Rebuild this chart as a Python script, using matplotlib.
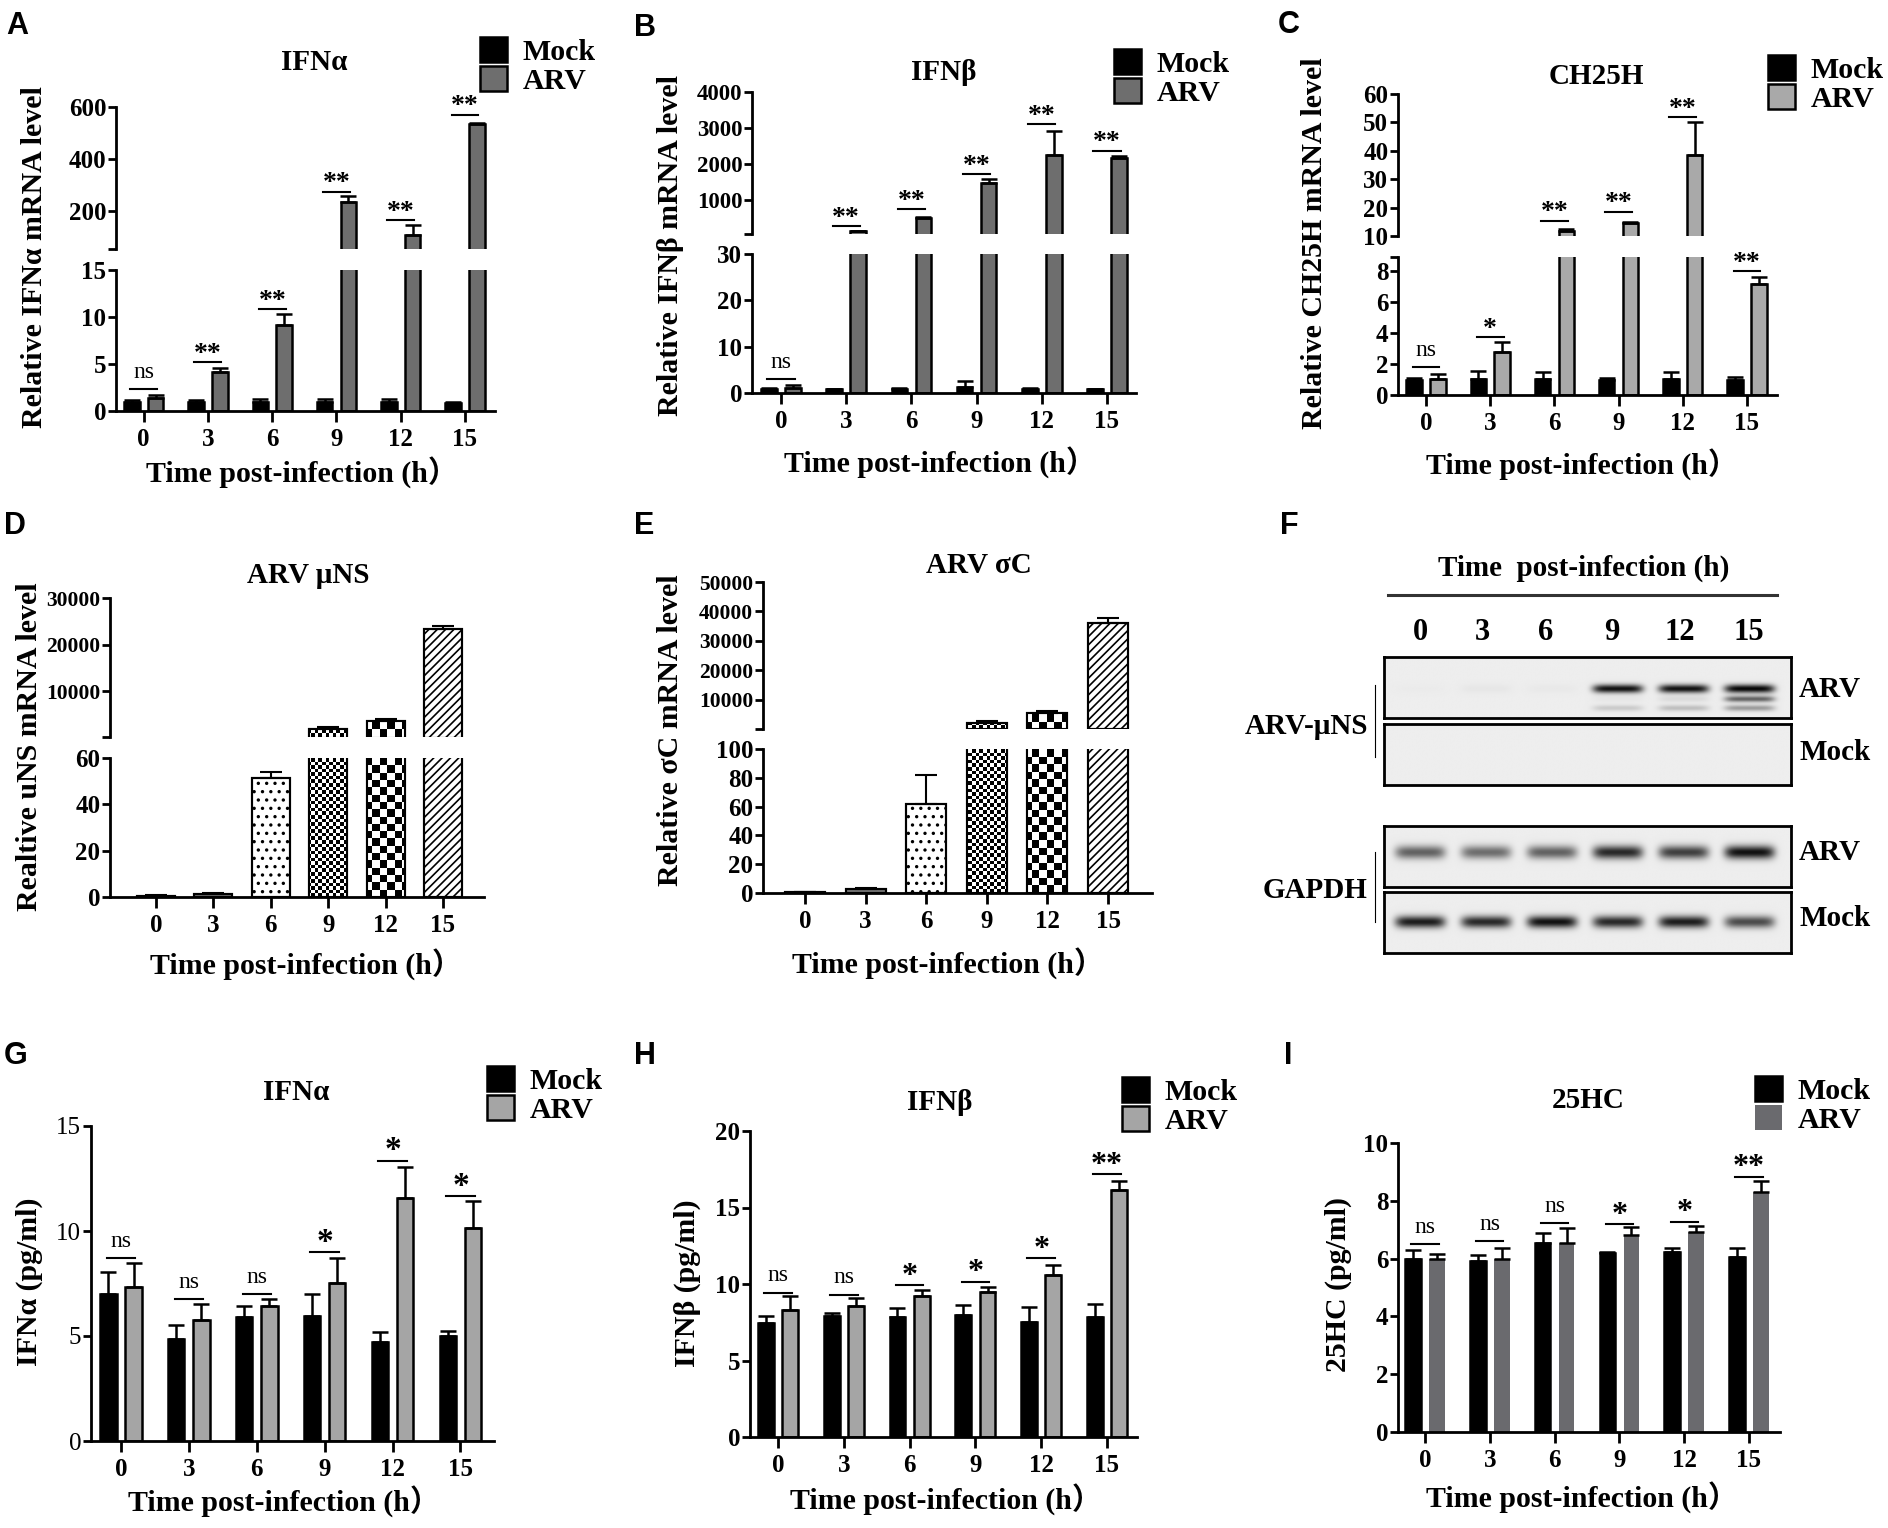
import numpy as np
import matplotlib.pyplot as plt
from matplotlib.lines import Line2D

plt.rcParams['font.family'] = ['Liberation Serif', 'Noto Sans CJK SC', 'DejaVu Sans']
plt.rcParams['font.weight'] = 'bold'
plt.rcParams['hatch.linewidth'] = 1.2

W, H = 1888, 1528

times = ['0', '3', '6', '9', '12', '15']
groups = ['Mock', 'ARV']
xlab = 'Time post-infection (h\uff09'

# A: IFNa mRNA
ifna_rna_mock = [1.0, 1.0, 1.0, 1.0, 1.0, 0.9]
ifna_rna_mock_err = [0.2, 0.2, 0.3, 0.3, 0.25, 0.1]
ifna_rna_arv = [1.4, 4.2, 9.2, 235, 106, 535]
ifna_rna_arv_err = [0.35, 0.35, 1.1, 23, 41, 5]
ifna_rna_sig = ['ns', '**', '**', '**', '**', '**']
ifna_rna_sig_y = [2.36, 5.2, 10.8, 274, 164, 570]

# B: IFNb mRNA
ifnb_rna_mock = [0.9, 0.8, 0.9, 1.3, 0.9, 0.8]
ifnb_rna_mock_err = [0.15, 0.1, 0.15, 1.2, 0.2, 0.1]
ifnb_rna_arv = [1.1, 130, 500, 1460, 2250, 2170]
ifnb_rna_arv_err = [0.7, 15, 35, 120, 660, 50]
ifnb_rna_sig = ['ns', '**', '**', '**', '**', '**']
ifnb_rna_sig_y = [3.1, 271, 738, 1720, 3100, 2370]

# C: CH25H mRNA
ch25h_mock = [0.97, 1.0, 1.0, 0.97, 1.0, 0.95]
ch25h_mock_err = [0.1, 0.55, 0.5, 0.13, 0.5, 0.19]
ch25h_arv = [1.03, 2.8, 11.9, 14.7, 38.6, 7.16]
ch25h_arv_err = [0.32, 0.6, 0.7, 0.3, 11.6, 0.47]
ch25h_sig = ['ns', '*', '**', '**', '**', '**']
ch25h_sig_y = [1.83, 3.72, 15.4, 18.6, 51.9, 8.0]

# D: ARV uNS mRNA
uns_rna = [0.6, 1.4, 51.4, 1890, 3520, 23350]
uns_rna_err = [0.4, 0.5, 2.4, 350, 570, 710]

# E: ARV sigmaC mRNA
sigc_rna = [0.7, 2.8, 61.9, 2110, 5500, 36140]
sigc_rna_err = [0.2, 0.7, 20, 560, 790, 1800]

# F: western blot band strength (0 = none, 1 = saturated)
uns_arv_band = [0.01, 0.03, 0.02, 0.95, 0.95, 1.0]
uns_arv_band2 = [0.0, 0.0, 0.0, 0.03, 0.08, 0.6]
uns_arv_band3 = [0.0, 0.0, 0.0, 0.15, 0.2, 0.35]
uns_mock_band = [0.0, 0.0, 0.0, 0.0, 0.0, 0.0]
gapdh_arv_band = [0.6, 0.55, 0.6, 0.85, 0.75, 0.95]
gapdh_mock_band = [0.9, 0.85, 0.95, 0.85, 0.9, 0.7]

# G: IFNa protein
ifna_mock = [7.02, 4.84, 5.89, 5.94, 4.71, 5.0]
ifna_mock_err = [1.01, 0.70, 0.52, 1.04, 0.46, 0.24]
ifna_arv = [7.33, 5.78, 6.44, 7.54, 11.56, 10.14]
ifna_arv_err = [1.15, 0.76, 0.32, 1.17, 1.47, 1.29]
ifna_sig = ['ns', 'ns', 'ns', '*', '*', '*']
ifna_sig_y = [8.71, 6.76, 6.98, 9.0, 13.35, 11.67]

# H: IFNb protein
ifnb_mock = [7.48, 7.92, 7.85, 8.0, 7.52, 7.85]
ifnb_mock_err = [0.44, 0.18, 0.59, 0.66, 0.98, 0.87]
ifnb_arv = [8.27, 8.57, 9.2, 9.47, 10.58, 16.12]
ifnb_arv_err = [0.93, 0.53, 0.4, 0.33, 0.65, 0.61]
ifnb_sig = ['ns', 'ns', '*', '*', '*', '**']
ifnb_sig_y = [9.44, 9.31, 9.92, 10.14, 11.67, 17.17]

# I: 25HC
hc_mock = [5.98, 5.9, 6.55, 6.18, 6.24, 6.07]
hc_mock_err = [0.32, 0.22, 0.32, 0.06, 0.14, 0.31]
hc_arv = [5.98, 5.98, 6.55, 6.8, 6.91, 8.29]
hc_arv_err = [0.19, 0.4, 0.5, 0.3, 0.22, 0.38]
hc_sig = ['ns', 'ns', 'ns', '*', '*', '**']
hc_sig_y = [6.5, 6.6, 7.23, 7.2, 7.28, 8.84]

fig = plt.figure(figsize=(W / 100, H / 100), dpi=100)


def add_ax(l, t, r, b):
    return fig.add_axes([l / W, 1 - b / H, (r - l) / W, (b - t) / H])


def ftext(x, y, s, **kw):
    kw.setdefault('ha', 'center')
    kw.setdefault('va', 'center')
    fig.text(x / W, 1 - y / H, s, **kw)


def x_limits(l, r, t0, t5):
    step = (t5 - t0) / 5
    return (-(t0 - l) / step, 5 + (r - t5) / step)


def style_axis(ax, xlim, ylim, ticks, labels, bottom, tick_weight='bold', fs=18):
    ax.set_xlim(xlim)
    ax.set_ylim(ylim)
    ax.set_yticks(ticks)
    ax.set_yticklabels(labels, fontsize=fs, fontweight=tick_weight)
    ax.spines['top'].set_visible(False)
    ax.spines['right'].set_visible(False)
    ax.spines['left'].set_linewidth(2)
    ax.tick_params(axis='y', direction='out', length=6, width=2, pad=1)
    ax.patch.set_alpha(0)
    if bottom:
        ax.spines['bottom'].set_linewidth(2)
        ax.set_xticks(range(6))
        ax.set_xticklabels(times, fontsize=18, fontweight='bold')
        ax.tick_params(axis='x', direction='out', length=8, width=2, pad=4)
    else:
        ax.spines['bottom'].set_visible(False)
        ax.tick_params(axis='x', bottom=False, labelbottom=False)


def make_axes(xbox, lower, upper, upper_fs):
    l, r = xbox[0], xbox[1]
    out = [(add_ax(l, lower[0], r, lower[1]),) + tuple(lower[2:]) + (True, 18)]
    if upper is not None:
        out.append((add_ax(l, upper[0], r, upper[1]),) + tuple(upper[2:]) + (False, upper_fs))
    return out


def above(vals, lim):
    # values below the segment floor are not drawn in the upper segment
    v = np.asarray(vals, float)
    return np.where(v > lim[0], v, np.nan)


def add_sig(axes, sig, sig_y, half=0.21, star_fs=20):
    for i in range(6):
        ax = axes[0][0]
        if len(axes) > 1 and sig_y[i] > axes[0][1][1]:
            ax = axes[1][0]
        ax.plot([i - half, i + half], [sig_y[i], sig_y[i]], color='black', lw=1.5,
                clip_on=False, zorder=5)
        ns = sig[i] == 'ns'
        ax.annotate(sig[i], (i, sig_y[i]), xytext=(0, 8 if ns else 1),
                    textcoords='offset points', ha='center', va='baseline',
                    fontsize=17 if ns else star_fs,
                    fontweight='normal' if ns else 'bold', annotation_clip=False)


def grouped_panel(xbox, lower, upper, mock, mock_err, arv, arv_err, sig, sig_y,
                  arv_color, arv_edge=True, tick_weight='bold', star_fs=20, upper_fs=18):
    xlim = x_limits(*xbox)
    x = np.arange(6)
    axes = make_axes(xbox, lower, upper, upper_fs)
    handles = None
    for ax, lim, ticks, labels, bottom, fs in axes:
        m = np.asarray(mock, float) if bottom else above(mock, lim)
        a = np.asarray(arv, float) if bottom else above(arv, lim)
        b1 = ax.bar(x - 0.185, m, 0.24, color='black', edgecolor='black',
                    linewidth=1.8, zorder=2)
        b2 = ax.bar(x + 0.185, a, 0.24, color=arv_color,
                    edgecolor='black' if arv_edge else arv_color,
                    linewidth=1.8 if arv_edge else 0, zorder=2)
        ax.errorbar(x - 0.185, m, yerr=[np.zeros(6), mock_err], fmt='none',
                    ecolor='black', elinewidth=1.8, capsize=6, capthick=1.8, zorder=3)
        ax.errorbar(x + 0.185, a, yerr=[np.zeros(6), arv_err], fmt='none',
                    ecolor='black', elinewidth=1.8, capsize=6, capthick=1.8, zorder=3)
        style_axis(ax, xlim, lim, ticks, labels, bottom, tick_weight, fs)
        if bottom:
            handles = (b1, b2)
    add_sig(axes, sig, sig_y, star_fs=star_fs)
    return handles


def checker_fill(ax, patch, box_px, cell):
    w = box_px[2] - box_px[0]
    h = box_px[3] - box_px[1]
    rows, cols = int(round(h / cell)), int(round(w / cell))
    board = np.add.outer(np.arange(rows), np.arange(cols)) % 2
    im = ax.imshow(board, cmap='gray', vmin=0, vmax=1, extent=(0, 1, 0, 1),
                   transform=ax.transAxes, interpolation='nearest', aspect='auto',
                   zorder=2)
    im.set_clip_path(patch)


def single_panel(xbox, lower, upper, vals, errs, upper_fs=15.5):
    xlim = x_limits(*xbox)
    x = np.arange(6)
    fills = ['#777777', '#777777', 'white', 'white', 'white', 'white']
    hatches = [None, None, '..', None, None, '////']
    cells = [0, 0, 0, 3.6, 7.5, 0]
    boxes = [lower, upper]
    axes = make_axes(xbox, lower, upper, upper_fs)
    for (ax, lim, ticks, labels, bottom, fs), bx in zip(axes, boxes):
        v = np.asarray(vals, float) if bottom else above(vals, lim)
        bars = ax.bar(x, v, 0.66, color=fills, edgecolor='black', linewidth=1.5,
                      zorder=1)
        for p, hch in zip(bars.patches, hatches):
            if hch:
                p.set_hatch(hch)
        for p, c, val in zip(bars.patches, cells, v):
            if c and not np.isnan(val):
                checker_fill(ax, p, (xbox[0], bx[0], xbox[1], bx[1]), c)
        ax.bar(x, v, 0.66, color='none', edgecolor='black', linewidth=1.5, zorder=3)
        ax.errorbar(x, v, yerr=[np.zeros(6), errs], fmt='none', ecolor='black',
                    elinewidth=1.5, capsize=8, capthick=1.5, zorder=4)
        style_axis(ax, xlim, lim, ticks, labels, bottom, fs=fs)


def legend(handles, x, y):
    fig.legend(handles, groups, loc='upper left', bbox_to_anchor=(x / W, 1 - y / H),
               frameon=False, fontsize=21.5, handlelength=0.92, handleheight=0.92,
               handletextpad=0.5, labelspacing=0.0, borderpad=0, borderaxespad=0)


LFS = 21.5

# ---- A ----
h = grouped_panel((116, 495, 143.7, 465),
                  (270, 411, (0, 15), [0, 5, 10, 15], ['0', '5', '10', '15']),
                  (107, 249, (54, 600), [54, 200, 400, 600], ['', '200', '400', '600']),
                  ifna_rna_mock, ifna_rna_mock_err, ifna_rna_arv, ifna_rna_arv_err,
                  ifna_rna_sig, ifna_rna_sig_y, '#6e6e6e')
legend(h, 480, 37)
ftext(314, 63, 'IFN\u03b1', fontsize=21)
ftext(35, 257, 'Relative IFN\u03b1 mRNA level', fontsize=LFS, rotation=90)
ftext(302, 473, xlab, fontsize=LFS)

# ---- B ----
h = grouped_panel((752, 1136, 781, 1107),
                  (254, 393, (0, 30), [0, 10, 20, 30], ['0', '10', '20', '30']),
                  (92, 234, (56, 4000), [56, 1000, 2000, 3000, 4000],
                   ['', '1000', '2000', '3000', '4000']),
                  ifnb_rna_mock, ifnb_rna_mock_err, ifnb_rna_arv, ifnb_rna_arv_err,
                  ifnb_rna_sig, ifnb_rna_sig_y, '#6e6e6e', upper_fs=16.5)
legend(h, 1114, 49)
ftext(944, 72, 'IFN\u03b2', fontsize=21)
ftext(671, 245, 'Relative IFN\u03b2 mRNA level', fontsize=LFS, rotation=90)
ftext(940, 463, xlab, fontsize=LFS)

# ---- C ----
h = grouped_panel((1398, 1777, 1426, 1747),
                  (257, 395, (0, 8.9), [0, 2, 4, 6, 8, 8.9], ['0', '2', '4', '6', '8', '']),
                  (94, 236, (10, 60), [10, 20, 30, 40, 50, 60],
                   ['10', '20', '30', '40', '50', '60']),
                  ch25h_mock, ch25h_mock_err, ch25h_arv, ch25h_arv_err,
                  ch25h_sig, ch25h_sig_y, '#a9a9a9')
legend(h, 1768, 55)
ftext(1596, 77, 'CH25H', fontsize=21)
ftext(1314, 243, 'Relative CH25H mRNA level', fontsize=LFS, rotation=90)
ftext(1582, 465, xlab, fontsize=LFS)

# ---- D ----
single_panel((110, 484, 156, 443),
             (758, 897, (0, 60), [0, 20, 40, 60], ['0', '20', '40', '60']),
             (598, 737, (180, 30000), [180, 10000, 20000, 30000],
              ['', '10000', '20000', '30000']),
             uns_rna, uns_rna_err)
ftext(308, 575, 'ARV \u03bcNS', fontsize=21)
ftext(30, 747, 'Realtive uNS mRNA level', fontsize=LFS, rotation=90)
ftext(306, 965, xlab, fontsize=LFS)

# ---- E ----
single_panel((763, 1152, 805, 1108),
             (749, 893, (0, 100), [0, 20, 40, 60, 80, 100],
              ['0', '20', '40', '60', '80', '100']),
             (582, 729, (85, 50000), [85, 10000, 20000, 30000, 40000, 50000],
              ['', '10000', '20000', '30000', '40000', '50000']),
             sigc_rna, sigc_rna_err)
ftext(979, 565, 'ARV \u03c3C', fontsize=21)
ftext(671, 730, 'Relative \u03c3C mRNA level', fontsize=LFS, rotation=90)
ftext(948, 964, xlab, fontsize=LFS)

# ---- F (western blot) ----
lane_px = [1420, 1482, 1546, 1612, 1680, 1749]
bl, br = 1384, 1791
step = (lane_px[-1] - lane_px[0]) / 5
bx0, bx1 = -(lane_px[0] - bl) / step, 5 + (br - lane_px[-1]) / step


def blot(t, b, bands):
    ax = add_ax(bl, t, br, b)
    xs = np.linspace(bx0, bx1, 600)
    ys = np.linspace(0, 1, 120)
    X, Y = np.meshgrid(xs, ys)
    dark = np.zeros_like(X)
    for inten, yc, wy in bands:
        for i, v in enumerate(inten):
            dark += v * np.exp(-np.abs((X - i) / 0.38) ** 6) * np.exp(-((Y - yc) / wy) ** 2)
    img = 0.93 - 0.91 * np.clip(dark, 0, 1)
    ax.imshow(img, cmap='gray', vmin=0, vmax=1, extent=(bx0, bx1, 1, 0),
              aspect='auto', interpolation='bilinear')
    ax.set_xlim(bx0, bx1)
    ax.set_ylim(1, 0)
    ax.set_xticks([])
    ax.set_yticks([])
    for s in ax.spines.values():
        s.set_linewidth(2)


blot(657, 718, [(uns_arv_band, 0.52, 0.07), (uns_arv_band2, 0.69, 0.05),
                (uns_arv_band3, 0.84, 0.05)])
blot(724, 785, [(uns_mock_band, 0.5, 0.07)])
blot(826, 887, [(gapdh_arv_band, 0.43, 0.11)])
blot(892, 953, [(gapdh_mock_band, 0.49, 0.1)])

ftext(1584, 568, 'Time  post-infection (h)', fontsize=21)
fig.add_artist(Line2D([1388 / W, 1777 / W], [1 - 595 / H, 1 - 595 / H], color='#333333',
                      lw=2.2, transform=fig.transFigure))
for xp, lab in zip(lane_px, times):
    ftext(xp, 632, lab, fontsize=22)
ftext(1799, 689, 'ARV', fontsize=21, ha='left')
ftext(1799, 753, 'Mock', fontsize=21, ha='left')
ftext(1799, 853, 'ARV', fontsize=21, ha='left')
ftext(1799, 919, 'Mock', fontsize=21, ha='left')
ftext(1368, 727, 'ARV-\u03bcNS', fontsize=21, ha='right')
ftext(1368, 890, 'GAPDH', fontsize=21, ha='right')
for y0, y1 in [(685, 757), (852, 922)]:
    fig.add_artist(Line2D([1375 / W, 1375 / W], [1 - y0 / H, 1 - y1 / H], color='black',
                          lw=0.8, transform=fig.transFigure))

# ---- G ----
h = grouped_panel((91, 494, 121, 460.5),
                  (1126, 1441, (0, 15), [0, 5, 10, 15], ['0', '5', '10', '15']), None,
                  ifna_mock, ifna_mock_err, ifna_arv, ifna_arv_err,
                  ifna_sig, ifna_sig_y, '#a5a5a5', tick_weight='normal', star_fs=24)
legend(h, 487, 1066)
ftext(296, 1092, 'IFN\u03b1', fontsize=21)
ftext(29, 1282, 'IFN\u03b1 (pg/ml)', fontsize=LFS, rotation=90)
ftext(284, 1502, xlab, fontsize=LFS)

# ---- H ----
h = grouped_panel((750, 1137, 778, 1107),
                  (1131, 1437, (0, 20), [0, 5, 10, 15, 20],
                   ['0', '5', '10', '15', '20']), None,
                  ifnb_mock, ifnb_mock_err, ifnb_arv, ifnb_arv_err,
                  ifnb_sig, ifnb_sig_y, '#a5a5a5', star_fs=23)
legend(h, 1122, 1077)
ftext(940, 1103, 'IFN\u03b2', fontsize=21)
ftext(687, 1283, 'IFN\u03b2 (pg/ml)', fontsize=LFS, rotation=90)
ftext(946, 1500, xlab, fontsize=LFS)

# ---- I ----
h = grouped_panel((1398, 1780, 1425, 1749),
                  (1143, 1432, (0, 10), [0, 2, 4, 6, 8, 10],
                   ['0', '2', '4', '6', '8', '10']), None,
                  hc_mock, hc_mock_err, hc_arv, hc_arv_err,
                  hc_sig, hc_sig_y, '#6a6a6e', arv_edge=False, star_fs=23)
legend(h, 1755, 1076)
ftext(1588, 1100, '25HC', fontsize=21)
ftext(1338, 1285, '25HC (pg/ml)', fontsize=LFS, rotation=90)
ftext(1582, 1498, xlab, fontsize=LFS)

# panel letters
for lab, xp, yp in [('A', 6, 11), ('B', 634, 13), ('C', 1278, 10), ('D', 4, 511),
                    ('E', 634, 511), ('F', 1280, 511), ('G', 4, 1041),
                    ('H', 634, 1041), ('I', 1284, 1041)]:
    ftext(xp, yp, lab, fontsize=22, ha='left', va='top', family='Liberation Sans')

fig.savefig('out.png', dpi=100)
